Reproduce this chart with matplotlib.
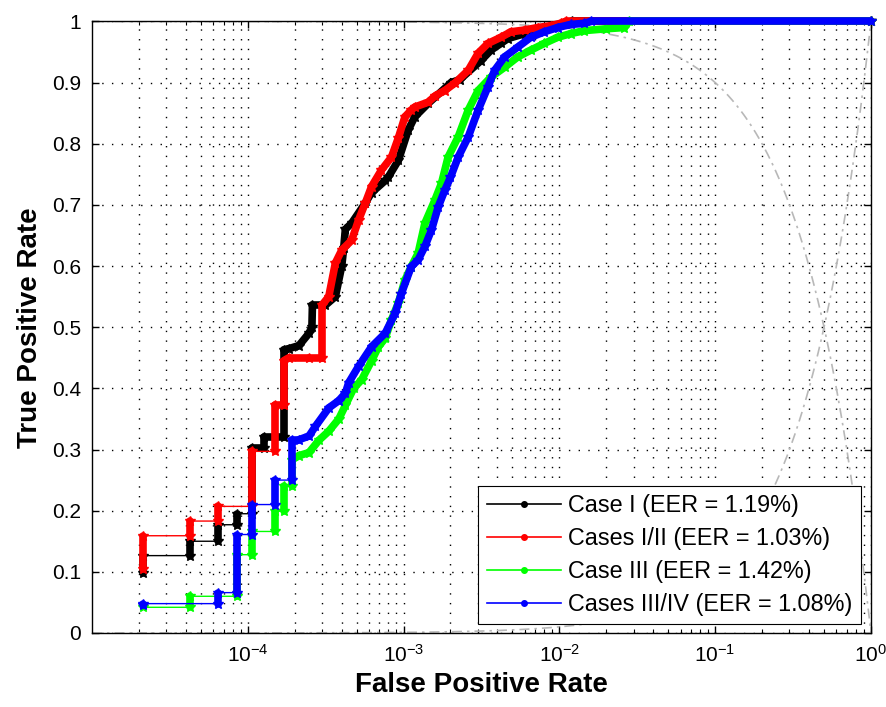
import numpy as np
import matplotlib
matplotlib.use("Agg")
import matplotlib.pyplot as plt
from matplotlib.collections import LineCollection
from matplotlib.lines import Line2D
from matplotlib.ticker import LogLocator, NullFormatter

plt.rcParams['font.family'] = ['Liberation Sans', 'DejaVu Sans']
plt.rcParams['mathtext.default'] = 'regular'

# ROC vertices: (false positive rate, true positive rate)
case1 = [(2.13e-5, 0.098), (2.13e-5, 0.1265), (4.26e-5, 0.1265), (4.26e-5, 0.15),
         (6.4e-5, 0.15), (6.4e-5, 0.177), (8.5e-5, 0.177), (8.5e-5, 0.195),
         (1.06e-4, 0.195), (1.06e-4, 0.303), (1.28e-4, 0.303), (1.28e-4, 0.32),
         (1.7e-4, 0.32), (1.7e-4, 0.463), (1.84e-4, 0.465), (2.13e-4, 0.47),
         (2.47e-4, 0.49), (2.58e-4, 0.50), (2.6e-4, 0.536), (3.15e-4, 0.536),
         (3.65e-4, 0.55), (4.01e-4, 0.60), (4.13e-4, 0.63), (4.23e-4, 0.66),
         (4.64e-4, 0.67), (5.68e-4, 0.703), (6.23e-4, 0.72), (7.65e-4, 0.74),
         (8.0e-4, 0.746), (9.27e-4, 0.773), (1.07e-3, 0.822), (1.18e-3, 0.844),
         (1.44e-3, 0.866), (2.02e-3, 0.90), (2.3e-3, 0.905), (3.14e-3, 0.936),
         (3.64e-3, 0.953), (4.21e-3, 0.964), (4.67e-3, 0.972), (6.0e-3, 0.98),
         (8.0e-3, 0.99), (1.05e-2, 0.995), (1.2e-2, 1.0), (1.0, 1.0)]

case12 = [(2.13e-5, 0.105), (2.13e-5, 0.159), (4.26e-5, 0.159), (4.26e-5, 0.183),
          (6.4e-5, 0.183), (6.4e-5, 0.207), (1.06e-4, 0.207), (1.06e-4, 0.297),
          (1.49e-4, 0.297), (1.49e-4, 0.373), (1.7e-4, 0.373), (1.7e-4, 0.445),
          (1.84e-4, 0.45), (2.47e-4, 0.45), (2.99e-4, 0.45), (2.99e-4, 0.536),
          (3.31e-4, 0.55), (3.65e-4, 0.605), (4.01e-4, 0.626), (4.64e-4, 0.642),
          (5.14e-4, 0.675), (5.68e-4, 0.703), (6.23e-4, 0.73), (7.21e-4, 0.757),
          (8.36e-4, 0.778), (9.27e-4, 0.81), (1.02e-3, 0.844), (1.12e-3, 0.855),
          (1.18e-3, 0.86), (1.44e-3, 0.868), (1.59e-3, 0.878), (1.84e-3, 0.887),
          (2.13e-3, 0.899), (2.6e-3, 0.92), (3.01e-3, 0.948), (3.48e-3, 0.964),
          (4.21e-3, 0.974), (4.88e-3, 0.983), (6.0e-3, 0.986), (7.26e-3, 0.99),
          (8.79e-3, 0.993), (1.02e-2, 0.997), (1.1e-2, 1.0), (1.0, 1.0)]

case3 = [(2.13e-5, 0.042), (4.26e-5, 0.042), (4.26e-5, 0.06), (8.5e-5, 0.06),
         (8.5e-5, 0.128), (1.06e-4, 0.128), (1.06e-4, 0.166), (1.49e-4, 0.166),
         (1.49e-4, 0.199), (1.7e-4, 0.199), (1.7e-4, 0.24), (1.92e-4, 0.24),
         (1.92e-4, 0.283), (2.13e-4, 0.29), (2.47e-4, 0.295), (2.86e-4, 0.315),
         (3.31e-4, 0.33), (3.84e-4, 0.35), (4.23e-4, 0.372), (4.78e-4, 0.40),
         (5.38e-4, 0.414), (6.23e-4, 0.445), (6.9e-4, 0.468), (7.62e-4, 0.482),
         (8.36e-4, 0.512), (9.27e-4, 0.54), (1.02e-3, 0.577), (1.12e-3, 0.599),
         (1.24e-3, 0.621), (1.37e-3, 0.67), (1.59e-3, 0.708), (1.75e-3, 0.735),
         (1.93e-3, 0.778), (2.24e-3, 0.811), (2.6e-3, 0.855), (3.01e-3, 0.887),
         (3.64e-3, 0.909), (4.45e-3, 0.925), (5.41e-3, 0.942), (6.55e-3, 0.953),
         (8.0e-3, 0.964), (9.74e-3, 0.974), (1.18e-2, 0.98), (1.45e-2, 0.985),
         (2.0e-2, 0.988), (2.61e-2, 0.99), (2.8e-2, 1.0), (1.0, 1.0)]

case34 = [(2.13e-5, 0.045), (2.13e-5, 0.048), (6.4e-5, 0.048), (6.4e-5, 0.066),
          (8.5e-5, 0.066), (8.5e-5, 0.161), (1.06e-4, 0.161), (1.06e-4, 0.21),
          (1.49e-4, 0.21), (1.49e-4, 0.25), (1.92e-4, 0.25), (1.92e-4, 0.316),
          (2.13e-4, 0.316), (2.47e-4, 0.322), (2.72e-4, 0.338), (3.31e-4, 0.368),
          (3.84e-4, 0.38), (4.23e-4, 0.392), (4.44e-4, 0.409), (5.14e-4, 0.436),
          (6.23e-4, 0.468), (7.62e-4, 0.49), (8.83e-4, 0.523), (9.68e-4, 0.555),
          (1.12e-3, 0.599), (1.24e-3, 0.61), (1.37e-3, 0.632), (1.51e-3, 0.659),
          (1.67e-3, 0.697), (1.84e-3, 0.724), (2.0e-3, 0.745), (2.24e-3, 0.778),
          (2.6e-3, 0.811), (3.01e-3, 0.855), (3.48e-3, 0.893), (3.84e-3, 0.92),
          (4.45e-3, 0.942), (5.41e-3, 0.958), (6.55e-3, 0.974), (8.0e-3, 0.983),
          (9.74e-3, 0.99), (1.18e-2, 0.995), (1.45e-2, 0.997), (1.6e-2, 1.0),
          (1.0, 1.0)]

labels = ['Case I (EER = 1.19%)', 'Cases I/II (EER = 1.03%)',
          'Case III (EER = 1.42%)', 'Cases III/IV (EER = 1.08%)']
colors = ['black', 'red', '#00ff00', 'blue']
xticks = [1e-4, 1e-3, 1e-2, 1e-1, 1e0]
yticks = [0, 0.1, 0.2, 0.3, 0.4, 0.5, 0.6, 0.7, 0.8, 0.9, 1]
ytick_labels = ['0', '0.1', '0.2', '0.3', '0.4', '0.5', '0.6', '0.7', '0.8', '0.9', '1']

fig = plt.figure(figsize=(8.87, 7.07), dpi=100)
ax = fig.add_axes([0.1037, 0.1047, 0.8782, 0.865])

# chance / EER guide lines
ref_x = np.logspace(-5, 0, 400)
ax.plot(ref_x, 1 - ref_x, color='0.72', ls=(0, (6, 3, 1.5, 3)), lw=1.2)
ax.plot(ref_x, ref_x, color='0.72', ls=(0, (6, 3, 1.5, 3)), lw=1.2)

for pts, c in zip([case1, case12, case3, case34], colors):
    pts = np.array(pts)
    x, y = pts[:, 0], pts[:, 1]
    segs = np.stack([pts[:-1], pts[1:]], axis=1)
    # the sparse low steps are drawn thin, the dense part as a marker band
    flat = (np.diff(y) == 0) & (y[:-1] < 0.3)
    ax.add_collection(LineCollection(segs[~flat], colors=c, linewidths=5.5,
                                     capstyle='round', joinstyle='round',
                                     clip_on=False, zorder=3))
    ax.plot(x, y, color=c, lw=1, marker='*', ms=7.5, clip_on=False, zorder=3)

ax.set_xscale('log')
ax.set_xlim(1e-5, 1)
ax.set_ylim(0, 1)
ax.set_xticks(xticks)
ax.xaxis.set_minor_locator(LogLocator(base=10, subs=np.arange(2, 10), numticks=20))
ax.xaxis.set_minor_formatter(NullFormatter())
ax.set_yticks(yticks)
ax.set_yticklabels(ytick_labels)

ax.tick_params(which='both', direction='in', top=True, right=True)
ax.tick_params(which='major', length=5, width=1, labelsize=15, pad=8)
ax.tick_params(which='minor', length=3, width=0.8)
for s in ax.spines.values():
    s.set_linewidth(1)

ax.grid(True, which='major', ls=(0, (1, 6)), color='k', lw=1)
ax.grid(True, which='minor', axis='x', ls=(0, (1, 6)), color='k', lw=1)
ax.set_axisbelow(True)

ax.set_xlabel('False Positive Rate', fontsize=20, fontweight='bold', labelpad=4)
ax.set_ylabel('True Positive Rate', fontsize=20, fontweight='bold', labelpad=6)

handles = [Line2D([], [], color=c, lw=1.2, marker='.', ms=8) for c in colors]
leg = ax.legend(handles, labels, loc='lower right', bbox_to_anchor=(0.987, 0.0147),
                borderaxespad=0, fontsize=16.8, fancybox=False, framealpha=1,
                edgecolor='black', handlelength=3.2, handletextpad=0.3,
                labelspacing=0.42, borderpad=0.35)
leg.get_frame().set_linewidth(0.8)

fig.savefig('out.png', dpi=100)
